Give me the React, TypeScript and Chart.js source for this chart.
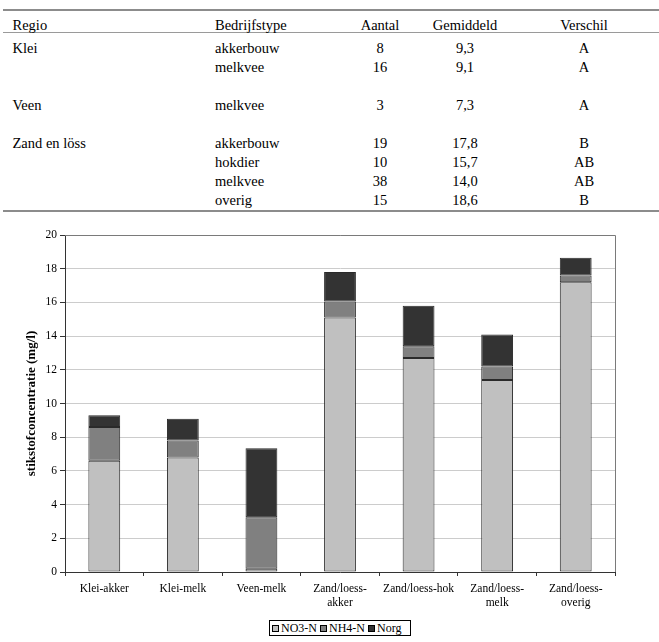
import React, { useEffect, useRef } from "react";
import { Chart, registerables } from "chart.js";

Chart.register(...registerables);

const FONT = "Liberation Serif, DejaVu Serif, Noto Serif, Times New Roman, serif";

// ---- chart data ----
const categories: string[][] = [
  ["Klei-akker"],
  ["Klei-melk"],
  ["Veen-melk"],
  ["Zand/loess-", "akker"],
  ["Zand/loess-hok"],
  ["Zand/loess-", "melk"],
  ["Zand/loess-", "overig"],
];
const seriesNames = ["NO3-N", "NH4-N", "Norg"];
const no3Values = [6.6, 6.8, 0.2, 15.1, 12.7, 11.4, 17.2];
const nh4Values = [2.0, 1.0, 3.05, 0.95, 0.7, 0.8, 0.4];
const norgValues = [0.7, 1.3, 4.1, 1.75, 2.4, 1.9, 1.05];
const seriesColors = ["#c0c0c0", "#808080", "#333333"];
const yMin = 0;
const yMax = 20;
const yStep = 2;
const yTitle = "stikstofconcentratie (mg/l)";

// ---- table data ----
const tableHeader = ["Regio", "Bedrijfstype", "Aantal", "Gemiddeld", "Verschil"];
const tableRegio = ["Klei", "", "", "Veen", "", "Zand en löss", "", "", ""];
const tableType = ["akkerbouw", "melkvee", "", "melkvee", "", "akkerbouw", "hokdier", "melkvee", "overig"];
const tableCount = ["8", "16", "", "3", "", "19", "10", "38", "15"];
const tableMean = ["9,3", "9,1", "", "7,3", "", "17,8", "15,7", "14,0", "18,6"];
const tableDiff = ["A", "A", "", "A", "", "B", "AB", "AB", "B"];

const framePlugin = {
  id: "plotFrame",
  beforeDatasetsDraw(chart: any) {
    const { ctx, chartArea } = chart;
    const { left, right, top, bottom } = chartArea;
    ctx.save();
    ctx.strokeStyle = "#7a7a7a";
    ctx.lineWidth = 1;
    ctx.beginPath();
    ctx.moveTo(left, Math.round(top) + 0.5);
    ctx.lineTo(Math.round(right) + 0.5, Math.round(top) + 0.5);
    ctx.lineTo(Math.round(right) + 0.5, bottom);
    ctx.stroke();
    ctx.restore();
  },
};

const CANVAS_TOP = 225;
const CANVAS_H = 390;
const PLOT_LEFT = 65;
const PLOT_RIGHT = 615;
const PLOT_TOP = 235;
const PLOT_BOTTOM = 572;

function StackChart() {
  const ref = useRef<HTMLCanvasElement | null>(null);
  useEffect(() => {
    if (!ref.current) return;
    const valueSets = [no3Values, nh4Values, norgValues];
    const chart = new Chart(ref.current, {
      type: "bar",
      data: {
        labels: categories,
        datasets: seriesNames.map((name, i) => ({
          label: name,
          data: valueSets[i],
          backgroundColor: seriesColors[i],
          borderColor: "#2a2a2a",
          borderWidth: 1,
          borderSkipped: false,
          barPercentage: 0.405,
          categoryPercentage: 1,
        })),
      },
      options: {
        responsive: false,
        animation: false,
        devicePixelRatio: 1,
        layout: {
          padding: {
            left: 0,
            right: 659 - PLOT_RIGHT,
            top: PLOT_TOP - CANVAS_TOP,
            bottom: 0,
          },
        },
        plugins: {
          legend: { display: false },
          tooltip: { enabled: false },
          title: { display: false },
        },
        scales: {
          x: {
            stacked: true,
            offset: true,
            grid: {
              display: true,
              drawOnChartArea: false,
              drawTicks: true,
              tickLength: 4,
              tickColor: "#333333",
              offset: true,
            },
            border: { display: true, color: "#333333", width: 1 },
            ticks: {
              color: "#000000",
              font: { family: FONT, size: 11.5 },
              padding: 6,
              maxRotation: 0,
              minRotation: 0,
              autoSkip: false,
            },
            afterFit(scale: any) {
              scale.height = CANVAS_TOP + CANVAS_H - PLOT_BOTTOM;
            },
          },
          y: {
            stacked: true,
            min: yMin,
            max: yMax,
            grid: {
              color: "#cccccc",
              lineWidth: 1,
              drawTicks: true,
              tickLength: 5,
              tickColor: "#333333",
            },
            border: { display: true, color: "#333333", width: 1 },
            ticks: {
              stepSize: yStep,
              color: "#000000",
              font: { family: FONT, size: 11.5 },
              padding: 3,
            },
            title: {
              display: true,
              text: yTitle,
              color: "#000000",
              font: { family: FONT, size: 13, weight: "bold" },
              padding: { top: 24, bottom: 0 },
            },
            afterFit(scale: any) {
              scale.width = PLOT_LEFT;
            },
          },
        },
      },
      plugins: [framePlugin],
    } as any);
    return () => chart.destroy();
  }, []);
  return (
    <canvas
      ref={ref}
      width={659}
      height={CANVAS_H}
      style={{ position: "absolute", left: 0, top: CANVAS_TOP, width: 659, height: CANVAS_H }}
    />
  );
}

const TABLE_FONT = 14.5;
const colLeft = [12.5, 215];
const colCenter = [380, 465, 584];

function Cell({ text, x, baseline, center }: { text: string; x: number; baseline: number; center?: boolean }) {
  if (!text) return null;
  const lh = 20;
  const top = baseline - 14.9;
  const style: React.CSSProperties = {
    position: "absolute",
    top,
    height: lh,
    lineHeight: lh + "px",
    fontSize: TABLE_FONT,
    fontFamily: FONT,
    color: "#000",
    whiteSpace: "nowrap",
  };
  if (center) {
    style.left = x - 60;
    style.width = 120;
    style.textAlign = "center";
  } else {
    style.left = x;
  }
  return <div style={style}>{text}</div>;
}

function Table() {
  const headerBaseline = 29.5;
  const rowBaseline = (i: number) => 52.5 + 19.1 * i;
  const rule = (top: number, h: number, color: string) => (
    <div style={{ position: "absolute", left: 3, width: 656, top, height: h, background: color }} />
  );
  return (
    <>
      {rule(9, 2, "#8c8c8c")}
      {rule(32, 1, "#9a9a9a")}
      {rule(209.5, 2, "#8c8c8c")}
      <Cell text={tableHeader[0]} x={colLeft[0]} baseline={headerBaseline} />
      <Cell text={tableHeader[1]} x={colLeft[1]} baseline={headerBaseline} />
      <Cell text={tableHeader[2]} x={colCenter[0]} baseline={headerBaseline} center />
      <Cell text={tableHeader[3]} x={colCenter[1]} baseline={headerBaseline} center />
      <Cell text={tableHeader[4]} x={colCenter[2]} baseline={headerBaseline} center />
      {tableType.map((_, i) => (
        <React.Fragment key={i}>
          <Cell text={tableRegio[i]} x={colLeft[0]} baseline={rowBaseline(i)} />
          <Cell text={tableType[i]} x={colLeft[1]} baseline={rowBaseline(i)} />
          <Cell text={tableCount[i]} x={colCenter[0]} baseline={rowBaseline(i)} center />
          <Cell text={tableMean[i]} x={colCenter[1]} baseline={rowBaseline(i)} center />
          <Cell text={tableDiff[i]} x={colCenter[2]} baseline={rowBaseline(i)} center />
        </React.Fragment>
      ))}
    </>
  );
}

function Legend() {
  return (
    <div
      style={{
        position: "absolute",
        left: 269,
        top: 620,
        width: 142,
        height: 16,
        boxSizing: "border-box",
        border: "1px solid #000",
        display: "flex",
        alignItems: "center",
        paddingLeft: 2,
        fontFamily: FONT,
        fontSize: 12,
        color: "#000",
        whiteSpace: "nowrap",
      }}
    >
      {seriesNames.map((name, i) => (
        <div key={name} style={{ display: "flex", alignItems: "center", marginRight: 3 }}>
          <span
            style={{
              display: "inline-block",
              width: 7,
              height: 7,
              boxSizing: "border-box",
              border: "1px solid #000",
              background: seriesColors[i],
              marginRight: 2,
            }}
          />
          <span style={{ lineHeight: "14px" }}>{name}</span>
        </div>
      ))}
    </div>
  );
}

export default function App() {
  return (
    <div style={{ position: "absolute", left: 0, top: 0, width: 659, height: 642, background: "#fff", overflow: "hidden" }}>
      <Table />
      <StackChart />
      <Legend />
    </div>
  );
}
